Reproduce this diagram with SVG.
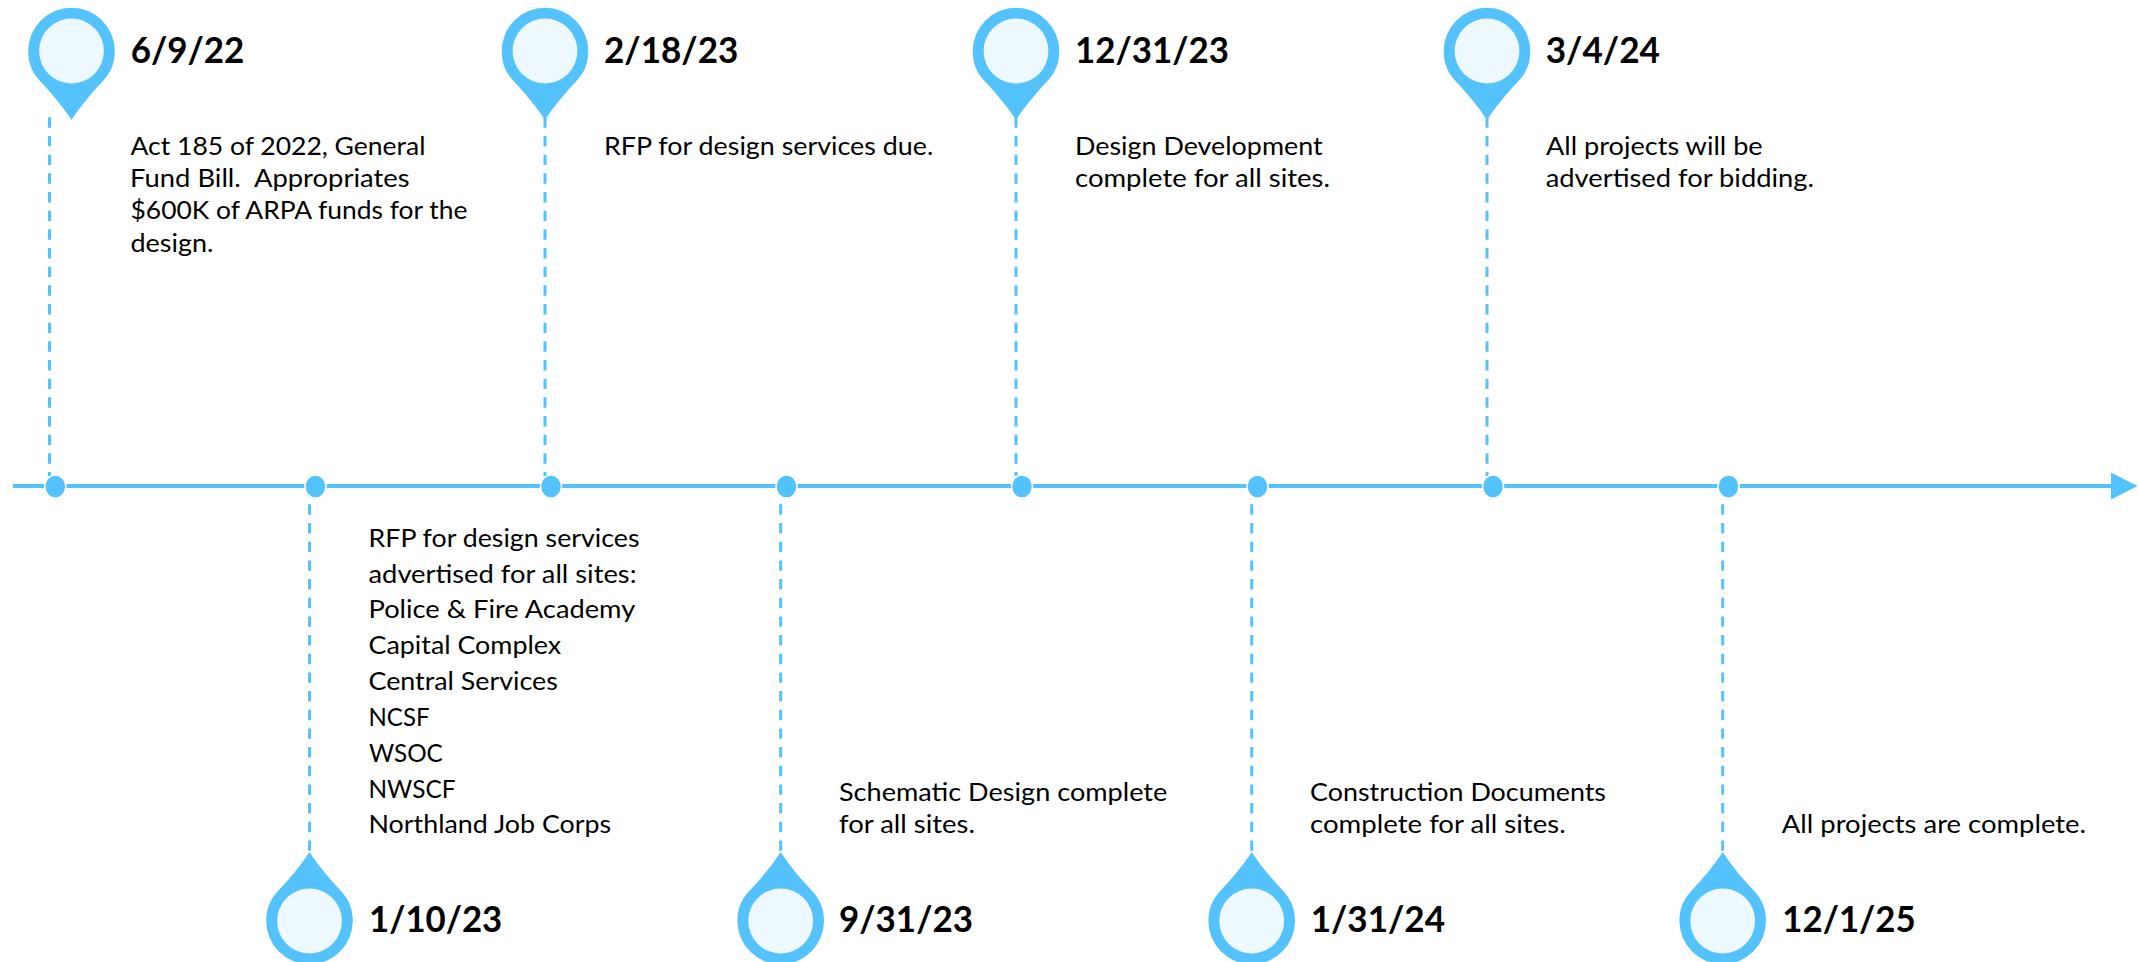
<svg xmlns="http://www.w3.org/2000/svg" xmlns:xlink="http://www.w3.org/1999/xlink" width="2138" height="962" viewBox="0 0 2138 962">
<style>
text{font-family:"Lato","Open Sans","Liberation Sans",sans-serif;fill:#000;white-space:pre}
.date{font-size:37px;font-weight:700}
.body{font-size:25px}
.axis{stroke:#54C2FC;stroke-width:4;fill:none}
.stem{stroke:#54C2FC;stroke-width:3;fill:none}
.dot{fill:#54C2FC;stroke:#fff;stroke-width:1.5}
.pin{fill:#54C2FC}
.face{fill:#EDF8FF}
</style>
<defs>
<marker id="arrow" markerUnits="userSpaceOnUse" markerWidth="27" markerHeight="27" refX="0" refY="13.5" orient="auto"><path d="M0,0L26.5,13.5L0,27Z" fill="#54C2FC"/></marker>
<path id="pinDown" d="M-31.5,30C-40,21 -43.3,11 -43.3,0A43.3,43.3 0 0 1 43.3,0C43.3,11 40,21 31.5,30C21,41 9,55 0,69C-9,55 -21,41 -31.5,30Z"/>
</defs>
<rect width="2138" height="962" fill="#fff"/>
<g id="connectors">
<line class="axis" x1="13" y1="486" x2="2111" y2="486" marker-end="url(#arrow)"/>
<g stroke-dasharray="10.4 8.27">
<line class="stem" x1="49.5" y1="117.3" x2="49.5" y2="476"/>
<line class="stem" x1="545" y1="117.3" x2="545" y2="476"/>
<line class="stem" x1="1016" y1="117.3" x2="1016" y2="476"/>
<line class="stem" x1="1487" y1="117.3" x2="1487" y2="476"/>
<line class="stem" x1="309.5" y1="485.7" x2="309.5" y2="852"/>
<line class="stem" x1="780.7" y1="485.7" x2="780.7" y2="852"/>
<line class="stem" x1="1251.7" y1="485.7" x2="1251.7" y2="852"/>
<line class="stem" x1="1722.7" y1="485.7" x2="1722.7" y2="852"/>
</g>
<ellipse class="dot" cx="55.3" cy="486.5" rx="10.5" ry="11.5"/>
<ellipse class="dot" cx="315.5" cy="486.5" rx="10.5" ry="11.5"/>
<ellipse class="dot" cx="551" cy="486.5" rx="10.5" ry="11.5"/>
<ellipse class="dot" cx="786.5" cy="486.5" rx="10.5" ry="11.5"/>
<ellipse class="dot" cx="1022" cy="486.5" rx="10.5" ry="11.5"/>
<ellipse class="dot" cx="1257.5" cy="486.5" rx="10.5" ry="11.5"/>
<ellipse class="dot" cx="1493" cy="486.5" rx="10.5" ry="11.5"/>
<ellipse class="dot" cx="1728.5" cy="486.5" rx="10.5" ry="11.5"/>
</g>
<g id="node-1">
<use href="#pinDown" class="pin" transform="translate(71.5,51)"/><circle class="face" cx="71.5" cy="51" r="32.4"/>
<text class="date" x="130.7" y="62.5" textLength="113.7" lengthAdjust="spacingAndGlyphs">6/9/22</text>
<text class="body" x="130.5" y="154.5" textLength="295" lengthAdjust="spacingAndGlyphs">Act 185 of 2022, General</text>
<text class="body" x="130" y="186.8" textLength="279.5" lengthAdjust="spacingAndGlyphs">Fund Bill.  Appropriates</text>
<text class="body" x="130.5" y="219.2" textLength="337" lengthAdjust="spacingAndGlyphs">$600K of ARPA funds for the</text>
<text class="body" x="130.5" y="251.5" textLength="83" lengthAdjust="spacingAndGlyphs">design.</text>
</g>
<g id="node-2">
<use href="#pinDown" class="pin" transform="translate(309.5,921) rotate(180) scale(-1,1)"/><circle class="face" cx="309.5" cy="921" r="32.4"/>
<text class="date" x="369" y="932.3" textLength="133.3" lengthAdjust="spacingAndGlyphs">1/10/23</text>
<text class="body" x="368.5" y="546.7" textLength="271" lengthAdjust="spacingAndGlyphs">RFP for design services</text>
<text class="body" x="368.5" y="582.6" textLength="268" lengthAdjust="spacingAndGlyphs">advertised for all sites:</text>
<text class="body" x="368.5" y="618.4" textLength="266.7" lengthAdjust="spacingAndGlyphs">Police &amp; Fire Academy</text>
<text class="body" x="368.5" y="654.2" textLength="192.7" lengthAdjust="spacingAndGlyphs">Capital Complex</text>
<text class="body" x="368.5" y="690" textLength="189.3" lengthAdjust="spacingAndGlyphs">Central Services</text>
<text class="body" x="368.5" y="725.9" textLength="61" lengthAdjust="spacingAndGlyphs">NCSF</text>
<text class="body" x="369" y="761.7" textLength="73.8" lengthAdjust="spacingAndGlyphs">WSOC</text>
<text class="body" x="368.5" y="797.6" textLength="87" lengthAdjust="spacingAndGlyphs">NWSCF</text>
<text class="body" x="368.5" y="833.4" textLength="242.7" lengthAdjust="spacingAndGlyphs">Northland Job Corps</text>
</g>
<g id="node-3">
<use href="#pinDown" class="pin" transform="translate(545,51)"/><circle class="face" cx="545" cy="51" r="32.4"/>
<text class="date" x="604" y="62.5" textLength="134.3" lengthAdjust="spacingAndGlyphs">2/18/23</text>
<text class="body" x="604" y="154.5" textLength="329.3" lengthAdjust="spacingAndGlyphs">RFP for design services due.</text>
</g>
<g id="node-4">
<use href="#pinDown" class="pin" transform="translate(780.7,921) rotate(180) scale(-1,1)"/><circle class="face" cx="780.7" cy="921" r="32.4"/>
<text class="date" x="839" y="932.3" textLength="134" lengthAdjust="spacingAndGlyphs">9/31/23</text>
<text class="body" x="839" y="800.7" textLength="328.3" lengthAdjust="spacingAndGlyphs">Schematic Design complete</text>
<text class="body" x="839" y="833.3" textLength="136" lengthAdjust="spacingAndGlyphs">for all sites.</text>
</g>
<g id="node-5">
<use href="#pinDown" class="pin" transform="translate(1016,51)"/><circle class="face" cx="1016" cy="51" r="32.4"/>
<text class="date" x="1075" y="62.5" textLength="154" lengthAdjust="spacingAndGlyphs">12/31/23</text>
<text class="body" x="1075" y="154.5" textLength="247.7" lengthAdjust="spacingAndGlyphs">Design Development</text>
<text class="body" x="1075" y="186.8" textLength="255" lengthAdjust="spacingAndGlyphs">complete for all sites.</text>
</g>
<g id="node-6">
<use href="#pinDown" class="pin" transform="translate(1251.7,921) rotate(180) scale(-1,1)"/><circle class="face" cx="1251.7" cy="921" r="32.4"/>
<text class="date" x="1310.7" y="932.3" textLength="134.3" lengthAdjust="spacingAndGlyphs">1/31/24</text>
<text class="body" x="1310" y="800.7" textLength="296" lengthAdjust="spacingAndGlyphs">Construction Documents</text>
<text class="body" x="1310" y="833.3" textLength="255.7" lengthAdjust="spacingAndGlyphs">complete for all sites.</text>
</g>
<g id="node-7">
<use href="#pinDown" class="pin" transform="translate(1487,51)"/><circle class="face" cx="1487" cy="51" r="32.4"/>
<text class="date" x="1545.7" y="62.5" textLength="114.3" lengthAdjust="spacingAndGlyphs">3/4/24</text>
<text class="body" x="1546" y="154.5" textLength="216.7" lengthAdjust="spacingAndGlyphs">All projects will be</text>
<text class="body" x="1545.7" y="186.8" textLength="268.3" lengthAdjust="spacingAndGlyphs">advertised for bidding.</text>
</g>
<g id="node-8">
<use href="#pinDown" class="pin" transform="translate(1722.7,921) rotate(180) scale(-1,1)"/><circle class="face" cx="1722.7" cy="921" r="32.4"/>
<text class="date" x="1782.3" y="932.3" textLength="133.4" lengthAdjust="spacingAndGlyphs">12/1/25</text>
<text class="body" x="1781.8" y="833.3" textLength="304.2" lengthAdjust="spacingAndGlyphs">All projects are complete.</text>
</g>
</svg>
